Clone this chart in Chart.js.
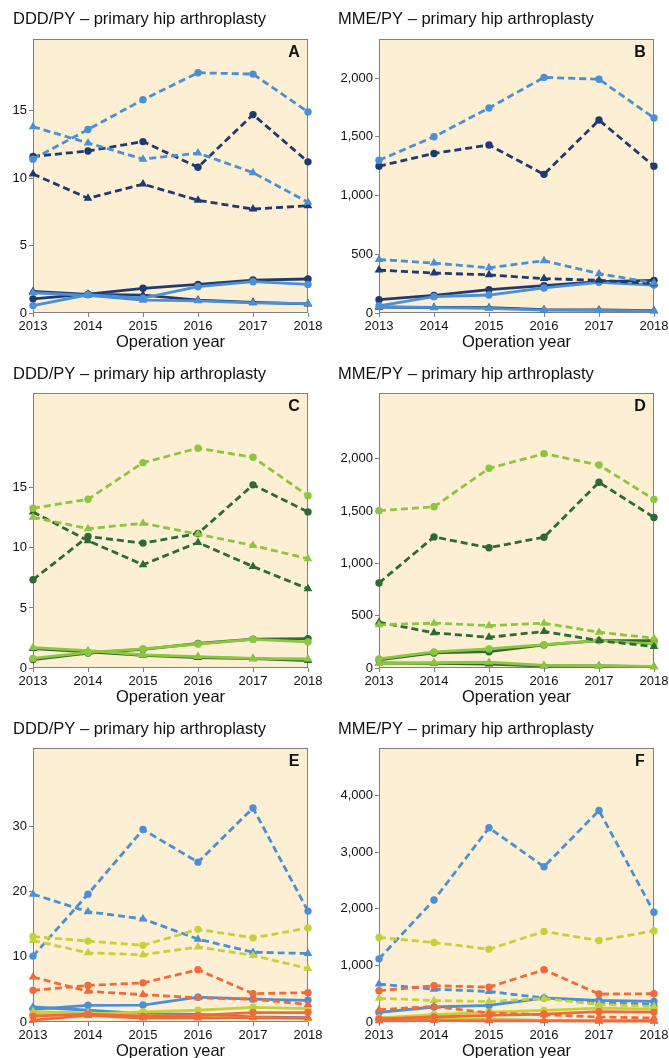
<!DOCTYPE html>
<html>
<head>
<meta charset="utf-8">
<script src="https://cdn.jsdelivr.net/npm/chart.js@4.4.1/dist/chart.umd.min.js"></script>
<style>
  html, body { margin: 0; padding: 0; background: #fff; width: 669px; height: 1058px; overflow: hidden; }
  canvas { position: absolute; }
</style>
</head>
<body>
<canvas id="chartA" width="335" height="355" style="left:0;top:0"></canvas>
<canvas id="chartB" width="334" height="355" style="left:335px;top:0"></canvas>
<canvas id="chartC" width="335" height="355" style="left:0;top:355px"></canvas>
<canvas id="chartD" width="334" height="355" style="left:335px;top:355px"></canvas>
<canvas id="chartE" width="335" height="359" style="left:0;top:705px"></canvas>
<canvas id="chartF" width="334" height="359" style="left:335px;top:705px"></canvas>
<script>
(function () {
  "use strict";

  const years = ['2013', '2014', '2015', '2016', '2017', '2018'];

  // y tick labels shown on each panel
  const dddTicksAC = [0, 5, 10, 15];
  const mmeTicksBD = [0, 500, 1000, 1500, 2000];
  const dddTicksE  = [0, 10, 20, 30];
  const mmeTicksF  = [0, 1000, 2000, 3000, 4000];

  // A - DDD/PY (blues)
  const aLightCircDash  = [11.4, 13.6, 15.8, 17.8, 17.7, 14.9];
  const aDarkCircDash   = [11.6, 12.0, 12.7, 10.8, 14.7, 11.2];
  const aLightTriDash   = [13.8, 12.6, 11.4, 11.85, 10.4, 8.2];
  const aDarkTriDash    = [10.3, 8.5, 9.55, 8.35, 7.7, 7.95];
  const aLightCircSolid = [0.55, 1.35, 1.1, 1.95, 2.32, 2.12];
  const aDarkCircSolid  = [1.05, 1.4, 1.83, 2.12, 2.44, 2.52];
  const aLightTriSolid  = [1.5, 1.3, 0.95, 0.9, 0.75, 0.7];
  const aDarkTriSolid   = [1.6, 1.38, 1.33, 0.96, 0.79, 0.67];

  // B - MME/PY (blues)
  const bLightCircDash  = [1300, 1500, 1745, 2005, 1990, 1660];
  const bDarkCircDash   = [1250, 1358, 1430, 1180, 1642, 1250];
  const bLightTriDash   = [455, 425, 385, 445, 335, 255];
  const bDarkTriDash    = [365, 340, 325, 293, 278, 250];
  const bLightCircSolid = [60, 139, 153, 213, 261, 238];
  const bDarkCircSolid  = [113, 150, 199, 233, 267, 278];
  const bLightTriSolid  = [55, 45, 40, 25, 22, 18];
  const bDarkTriSolid   = [50, 47, 45, 28, 26, 20];

  // C - DDD/PY (greens)
  const cLightCircDash  = [13.3, 14.05, 17.1, 18.3, 17.55, 14.35];
  const cDarkCircDash   = [7.35, 10.95, 10.4, 11.2, 15.25, 13.0];
  const cLightTriDash   = [12.55, 11.6, 12.05, 11.15, 10.2, 9.1];
  const cDarkTriDash    = [13.0, 10.6, 8.6, 10.45, 8.45, 6.6];
  const cLightCircSolid = [0.8, 1.3, 1.6, 2.0, 2.38, 2.17];
  const cDarkCircSolid  = [0.7, 1.25, 1.55, 2.04, 2.4, 2.45];
  const cLightTriSolid  = [1.7, 1.45, 1.1, 0.95, 0.8, 0.75];
  const cDarkTriSolid   = [1.62, 1.34, 1.06, 0.87, 0.78, 0.62];

  // D - MME/PY (greens)
  const dLightCircDash  = [1505, 1542, 1910, 2050, 1942, 1613];
  const dDarkCircDash   = [813, 1254, 1150, 1251, 1776, 1440];
  const dLightTriDash   = [413, 429, 405, 429, 342, 285];
  const dDarkTriDash    = [438, 336, 294, 349, 262, 205];
  const dLightCircSolid = [87, 154, 182, 224, 262, 230];
  const dDarkCircSolid  = [77, 144, 156, 221, 262, 262];
  const dLightTriSolid  = [45, 50, 55, 25, 20, 15];
  const dDarkTriSolid   = [48, 45, 38, 19, 19, 13];

  // E - DDD/PY (blue, olive, orange)
  const eBlueCircDash    = [10.1, 19.6, 29.5, 24.5, 32.8, 17.0];
  const eBlueTriDash     = [19.6, 16.9, 15.8, 12.7, 10.7, 10.5];
  const eOliveCircDash   = [13.1, 12.4, 11.75, 14.2, 12.9, 14.4];
  const eOliveTriDash    = [12.5, 10.6, 10.3, 11.5, 10.2, 8.2];
  const eOrangeCircDash  = [4.85, 5.6, 6.0, 8.0, 4.35, 4.5];
  const eOrangeTriDash   = [6.9, 4.7, 4.2, 3.7, 3.5, 2.7];
  const eBlueCircSolid   = [1.95, 2.56, 2.6, 3.8, 3.5, 3.33];
  const eBlueTriSolid    = [2.3, 1.8, 1.28, 1.18, 0.77, 0.67];
  const eOliveCircSolid  = [1.15, 1.2, 1.55, 1.8, 2.25, 2.05];
  const eOliveTriSolid   = [1.6, 1.4, 1.0, 0.8, 0.6, 0.5];
  const eOrangeCircSolid = [0.9, 1.2, 0.9, 1.0, 1.45, 1.45];
  const eOrangeTriSolid  = [0.3, 1.0, 0.6, 0.6, 0.7, 0.6];

  // F - MME/PY (blue, olive, orange)
  const fBlueCircDash    = [1117, 2158, 3434, 2746, 3740, 1940];
  const fBlueTriDash     = [670, 580, 540, 424, 335, 318];
  const fOliveCircDash   = [1494, 1405, 1288, 1600, 1441, 1611];
  const fOliveTriDash    = [420, 380, 364, 415, 310, 275];
  const fOrangeCircDash  = [553, 641, 617, 923, 494, 500];
  const fOrangeTriDash   = [217, 275, 159, 129, 88, 71];
  const fBlueCircSolid   = [170, 265, 293, 424, 382, 364];
  const fBlueTriSolid    = [71, 53, 41, 29, 24, 24];
  const fOliveCircSolid  = [71, 129, 176, 205, 247, 229];
  const fOliveTriSolid   = [60, 55, 40, 30, 25, 20];
  const fOrangeCircSolid = [53, 88, 118, 141, 182, 176];
  const fOrangeTriSolid  = [20, 25, 20, 20, 15, 15];

  // colours
  const navy   = '#1f3a70';
  const sky    = '#4b8fd6';
  const forest = '#2e6a35';
  const lime   = '#8cc540';
  const olive  = '#c5d13a';
  const orange = '#f06a3c';
  const panel_bg = '#fdefd3';
  const frame    = '#808080';
  const ink      = '#111111';

  Chart.defaults.font.family = "'Liberation Sans', Arial, sans-serif";
  Chart.defaults.color = ink;

  function series(data, color, marker, dashed) {
    return {
      data: data,
      borderColor: color,
      backgroundColor: color,
      borderWidth: 2.8,
      borderDash: dashed ? [7, 4] : [],
      pointStyle: marker,
      pointRadius: marker === 'triangle' ? 5 : 3.7,
      pointBorderWidth: 0,
      pointBackgroundColor: color,
      tension: 0,
      clip: false
    };
  }

  // beige plot area with grey frame + panel letter
  const panelFrame = {
    id: 'panelFrame',
    beforeDraw(chart) {
      const { ctx, chartArea: a } = chart;
      ctx.save();
      ctx.fillStyle = panel_bg;
      ctx.fillRect(a.left, a.top, a.right - a.left, a.bottom - a.top);
      ctx.strokeStyle = frame;
      ctx.lineWidth = 1;
      ctx.strokeRect(a.left + 0.5, a.top + 0.5, a.right - a.left - 1, a.bottom - a.top - 1);
      ctx.restore();
    },
    afterDraw(chart, args, opts) {
      const { ctx, chartArea: a } = chart;
      ctx.save();
      ctx.fillStyle = ink;
      ctx.font = "bold 16px 'Liberation Sans', Arial, sans-serif";
      ctx.textAlign = 'center';
      ctx.textBaseline = 'middle';
      ctx.fillText(opts.letter, a.right - 14, a.top + 14);
      ctx.restore();
    }
  };

  function makePanel(id, opt) {
    const ctx = document.getElementById(id).getContext('2d');
    return new Chart(ctx, {
      type: 'line',
      data: { labels: years, datasets: opt.datasets },
      plugins: [panelFrame],
      options: {
        responsive: false,
        animation: false,
        events: [],
        layout: { padding: { left: opt.padLeft, right: opt.padRight, top: 0, bottom: 0 } },
        plugins: {
          legend: { display: false },
          tooltip: { enabled: false },
          panelFrame: { letter: opt.letter },
          title: {
            display: true,
            text: opt.title,
            align: 'start',
            color: ink,
            font: { size: 16.5, weight: 'normal' },
            padding: { top: opt.titleTop, bottom: opt.titleBottom }
          }
        },
        scales: {
          x: {
            offset: false,
            afterFit: function (s) { s.height = 42; s.paddingLeft = 0; s.paddingRight = 0; },
            grid: { drawOnChartArea: false, drawTicks: true, tickLength: 4, color: frame, offset: false },
            border: { display: false },
            ticks: { padding: 1.5, color: ink, font: { size: 13 }, maxRotation: 0, autoSkip: false },
            title: { display: true, text: 'Operation year', color: ink, font: { size: 16.5 }, padding: { top: 0, bottom: 3 } }
          },
          y: {
            min: 0,
            max: opt.yMax,
            afterBuildTicks: function (s) { s.ticks = opt.yTicks.map(v => ({ value: v })); },
            afterFit: function (s) { s.width = opt.yWidth; s.paddingTop = 0; s.paddingBottom = 0; },
            grid: { drawOnChartArea: false, drawTicks: true, tickLength: 4, color: frame },
            border: { display: false },
            ticks: {
              padding: 2,
              color: ink,
              font: { size: 13 },
              callback: v => Number(v).toLocaleString('en-US')
            }
          }
        }
      }
    });
  }

  const dddTitle = 'DDD/PY \u2013 primary hip arthroplasty';
  const mmeTitle = 'MME/PY \u2013 primary hip arthroplasty';
  const leftCol  = { padLeft: 13, padRight: 27, yWidth: 20 };
  const rightCol = { padLeft: 3, padRight: 15, yWidth: 41 };

  makePanel('chartA', Object.assign({}, leftCol, {
    title: dddTitle, letter: 'A', yMax: 20.3, yTicks: dddTicksAC, titleTop: 10, titleBottom: 9.2,
    datasets: [
      series(aLightCircDash, sky, 'circle', true),
      series(aLightTriDash, sky, 'triangle', true),
      series(aDarkCircDash, navy, 'circle', true),
      series(aDarkTriDash, navy, 'triangle', true),
      series(aLightCircSolid, sky, 'circle', false),
      series(aLightTriSolid, sky, 'triangle', false),
      series(aDarkCircSolid, navy, 'circle', false),
      series(aDarkTriSolid, navy, 'triangle', false)
    ]
  }));

  makePanel('chartB', Object.assign({}, rightCol, {
    title: mmeTitle, letter: 'B', yMax: 2332, yTicks: mmeTicksBD, titleTop: 10, titleBottom: 9.2,
    datasets: [
      series(bLightCircDash, sky, 'circle', true),
      series(bLightTriDash, sky, 'triangle', true),
      series(bDarkCircDash, navy, 'circle', true),
      series(bDarkTriDash, navy, 'triangle', true),
      series(bLightCircSolid, sky, 'circle', false),
      series(bLightTriSolid, sky, 'triangle', false),
      series(bDarkCircSolid, navy, 'circle', false),
      series(bDarkTriSolid, navy, 'triangle', false)
    ]
  }));

  makePanel('chartC', Object.assign({}, leftCol, {
    title: dddTitle, letter: 'C', yMax: 22.9, yTicks: dddTicksAC, titleTop: 10, titleBottom: 8.2,
    datasets: [
      series(cLightCircDash, lime, 'circle', true),
      series(cLightTriDash, lime, 'triangle', true),
      series(cDarkCircDash, forest, 'circle', true),
      series(cDarkTriDash, forest, 'triangle', true),
      series(cLightCircSolid, lime, 'circle', false),
      series(cLightTriSolid, lime, 'triangle', false),
      series(cDarkCircSolid, forest, 'circle', false),
      series(cDarkTriSolid, forest, 'triangle', false)
    ]
  }));

  makePanel('chartD', Object.assign({}, rightCol, {
    title: mmeTitle, letter: 'D', yMax: 2630, yTicks: mmeTicksBD, titleTop: 10, titleBottom: 8.2,
    datasets: [
      series(dLightCircDash, lime, 'circle', true),
      series(dLightTriDash, lime, 'triangle', true),
      series(dDarkCircDash, forest, 'circle', true),
      series(dDarkTriDash, forest, 'triangle', true),
      series(dLightCircSolid, lime, 'circle', false),
      series(dLightTriSolid, lime, 'triangle', false),
      series(dDarkCircSolid, forest, 'circle', false),
      series(dDarkTriSolid, forest, 'triangle', false)
    ]
  }));

  makePanel('chartE', Object.assign({}, leftCol, {
    title: dddTitle, letter: 'E', yMax: 42, yTicks: dddTicksE, titleTop: 15, titleBottom: 8.2,
    datasets: [
      series(eOrangeCircDash, orange, 'circle', true),
      series(eOrangeTriDash, orange, 'triangle', true),
      series(eOliveCircDash, olive, 'circle', true),
      series(eOliveTriDash, olive, 'triangle', true),
      series(eBlueCircDash, sky, 'circle', true),
      series(eBlueTriDash, sky, 'triangle', true),
      series(eOrangeTriSolid, orange, 'triangle', false),
      series(eOrangeCircSolid, orange, 'circle', false),
      series(eOliveTriSolid, olive, 'triangle', false),
      series(eOliveCircSolid, olive, 'circle', false),
      series(eBlueTriSolid, sky, 'triangle', false),
      series(eBlueCircSolid, sky, 'circle', false)
    ]
  }));

  makePanel('chartF', Object.assign({}, rightCol, {
    title: mmeTitle, letter: 'F', yMax: 4845, yTicks: mmeTicksF, titleTop: 15, titleBottom: 8.2,
    datasets: [
      series(fOrangeCircDash, orange, 'circle', true),
      series(fOrangeTriDash, orange, 'triangle', true),
      series(fOliveCircDash, olive, 'circle', true),
      series(fOliveTriDash, olive, 'triangle', true),
      series(fBlueCircDash, sky, 'circle', true),
      series(fBlueTriDash, sky, 'triangle', true),
      series(fOrangeTriSolid, orange, 'triangle', false),
      series(fOrangeCircSolid, orange, 'circle', false),
      series(fOliveTriSolid, olive, 'triangle', false),
      series(fOliveCircSolid, olive, 'circle', false),
      series(fBlueTriSolid, sky, 'triangle', false),
      series(fBlueCircSolid, sky, 'circle', false)
    ]
  }));

})();
</script>
</body>
</html>
